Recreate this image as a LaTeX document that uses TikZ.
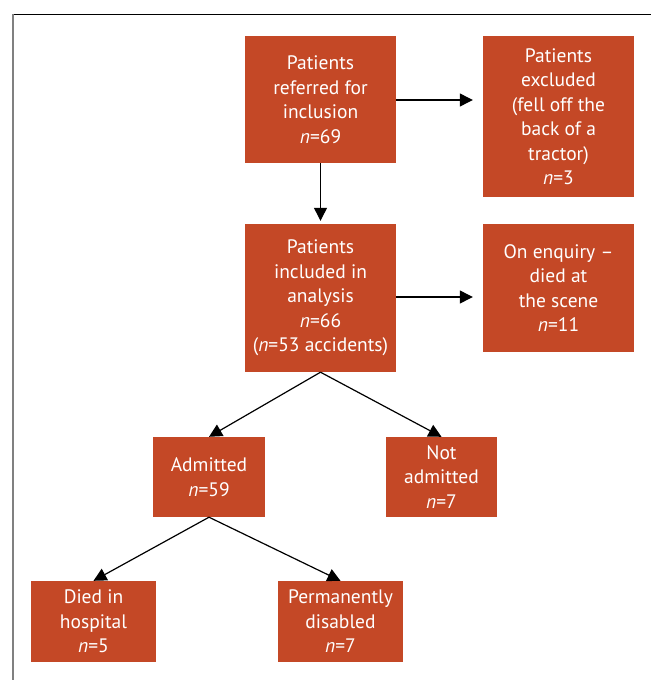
\documentclass[tikz,border=0pt]{standalone}
\usepackage{fontspec}
\setmainfont{PT Sans}
\usetikzlibrary{arrows.meta}
\definecolor{boxred}{HTML}{C44826}
\definecolor{framegray}{HTML}{808080}
\begin{document}
\begin{tikzpicture}[x=1pt,y=-1pt,
  box/.style={fill=boxred, text=white, align=center, inner sep=0pt,
    font=\fontsize{19.5}{24.5}\selectfont},
  arr/.style={-{Triangle[length=13pt,width=13pt]}, line width=1.2pt}]
\useasboundingbox (0,0) rectangle (651,680);
\draw[line width=1pt] (13,14.5) -- (651,14.5);
\draw[framegray, line width=1.5pt] (13,14) -- (13,680);

\node[box, minimum width=151pt, minimum height=127pt] (a) at (320.5,99.5)
  {Patients\\referred for\\inclusion\\\textit{n}=69};
\node[box, minimum width=151pt, minimum height=161pt] (b) at (558.5,116.5)
  {Patients\\excluded\\(fell off the\\back of a\\tractor)\\\textit{n}=3};
\node[box, minimum width=151pt, minimum height=148pt] (c) at (320.5,298)
  {Patients\\included in\\analysis\\\textit{n}=66\\(\textit{n}=53 accidents)};
\node[box, minimum width=151pt, minimum height=128pt] (d) at (558.5,288)
  {On enquiry --\\died at\\the scene\\\textit{n}=11};
\node[box, minimum width=112pt, minimum height=80pt] (e) at (209,477)
  {Admitted\\\textit{n}=59};
\node[box, minimum width=111pt, minimum height=80pt] (f) at (441.5,477)
  {Not\\admitted\\\textit{n}=7};
\node[box, minimum width=125pt, minimum height=81pt] (g) at (93.5,621.5)
  {Died in\\hospital\\\textit{n}=5};
\node[box, minimum width=125pt, minimum height=81pt] (h) at (340.5,621.5)
  {Permanently\\disabled\\\textit{n}=7};

\draw[arr, shorten >=10pt] (a.east |- 0,100) -- (b.west |- 0,100);
\draw[arr, shorten >=3pt] (a.south) -- (c.north);
\draw[arr, shorten >=10pt] (c.east |- 0,297) -- (d.west |- 0,297);
\draw[arr] (c.south) -- (e.north);
\draw[arr] (c.south) -- (f.north);
\draw[arr] (e.south) -- (g.north);
\draw[arr] (e.south) -- (h.north);
\end{tikzpicture}
\end{document}
